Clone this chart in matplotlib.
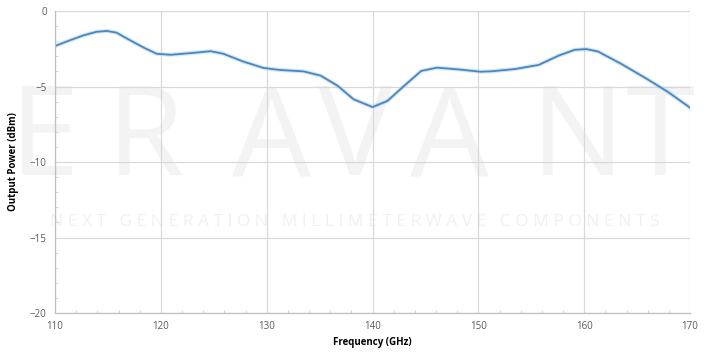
import numpy as np
import matplotlib
matplotlib.use('Agg')
import matplotlib.pyplot as plt
from matplotlib.ticker import MultipleLocator

plt.rcParams['font.family'] = ['Open Sans', 'DejaVu Sans']

# 读图得到的数据点（频率 GHz / 输出功率 dBm）
freq = [110.0, 111.4, 112.7, 113.9, 114.9, 115.8, 117.1, 118.4, 119.6, 120.9,
        122.8, 124.7, 125.9, 127.8, 129.7, 131.2, 133.5, 135.1, 136.7, 138.2,
        140.0, 141.4, 143.0, 144.6, 146.1, 148.3, 150.2, 151.3, 153.5, 155.7,
        157.6, 159.1, 160.2, 161.3, 163.5, 165.7, 167.9, 170.0]
power = [-2.32, -1.94, -1.61, -1.38, -1.32, -1.43, -1.94, -2.43, -2.83, -2.90,
         -2.79, -2.66, -2.83, -3.35, -3.77, -3.90, -4.00, -4.28, -4.95, -5.84,
         -6.36, -5.96, -4.95, -3.97, -3.75, -3.88, -4.02, -3.99, -3.84, -3.57,
         -2.95, -2.57, -2.52, -2.68, -3.50, -4.40, -5.35, -6.40]

x_ticks = [110, 120, 130, 140, 150, 160, 170]
y_ticks = [0, -5, -10, -15, -20]

wm_letters = ['E', 'R', 'A', 'V', 'A', 'N', 'T']
wm_sub = 'NEXT GENERATION MILLIMETERWAVE COMPONENTS'

fig = plt.figure(figsize=(7.09, 3.53), dpi=100)

# 水印（很淡，放在坐标轴下面）
wm_x = [44, 145, 272, 355, 450, 578, 660]
for ch, xp in zip(wm_letters, wm_x):
    fig.text(xp / 709, 1 - 143 / 353, ch, ha='center', va='center',
             fontsize=90, color='#f3f3f3', zorder=-1)
spaced = '   '.join(' '.join(w) for w in wm_sub.split(' '))
fig.text(0.5, 1 - 222 / 353, spaced, ha='center', va='center',
         fontsize=12.5, color='#f1f1f1', zorder=-1)

ax = fig.add_axes([0.0776, 0.1133, 0.8956, 0.8555])
ax.patch.set_alpha(0)
ax.plot(freq, power, color='#a9cdec', lw=3.0, alpha=0.5,
        solid_joinstyle='round', solid_capstyle='round')
ax.plot(freq, power, color='#4a87bf', lw=1.3, solid_joinstyle='round')

ax.set_xlim(110, 170)
ax.set_ylim(-20, 0)
ax.set_xticks(x_ticks)
ax.set_yticks(y_ticks)
ax.xaxis.set_minor_locator(MultipleLocator(2))
ax.yaxis.set_minor_locator(MultipleLocator(1))
ax.grid(True, which='major', color='#d9d9d9', lw=0.9)
ax.tick_params(which='major', length=0, labelsize=7, colors='#595959', pad=6)
ax.tick_params(which='minor', direction='in', length=2.5, color='#d0d0d0')
for s in ['top', 'right']:
    ax.spines[s].set_visible(False)
for s in ['left', 'bottom']:
    ax.spines[s].set_color('#bfbfbf')
    ax.spines[s].set_linewidth(0.9)

ax.set_xlabel('Frequency (GHz)', fontsize=7, fontweight='bold', labelpad=3)
ax.set_ylabel('Output Power (dBm)', fontsize=7, fontweight='bold', labelpad=8)

fig.savefig('out.png', dpi=100)
